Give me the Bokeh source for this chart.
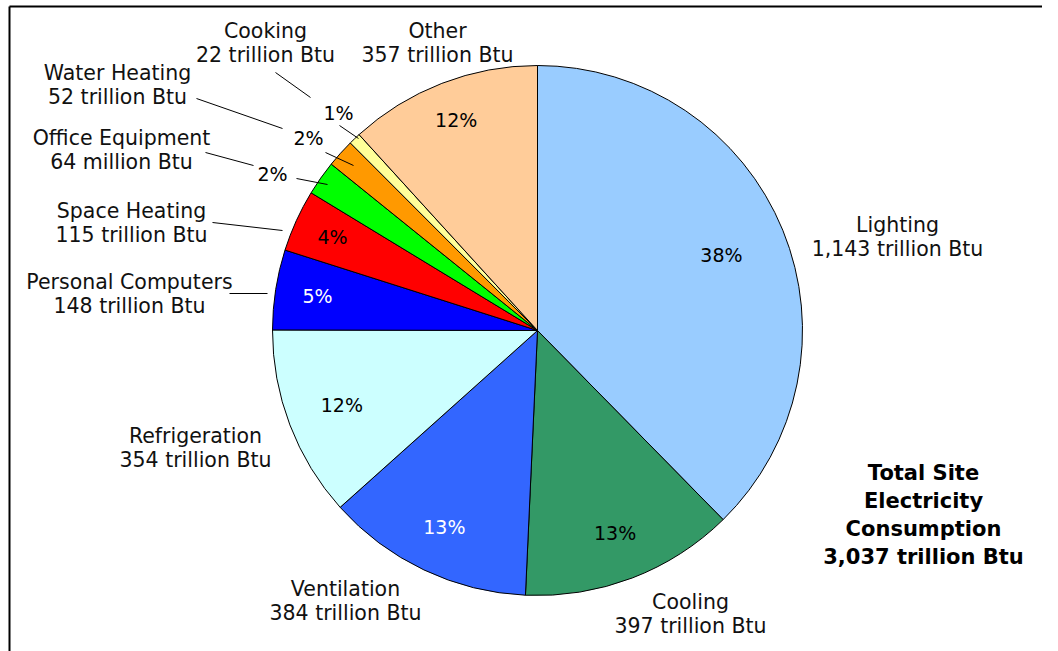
import numpy as np
from bokeh.plotting import figure
from bokeh.models import Range1d
from bokeh.core.properties import value
from bokeh.embed import file_html
from bokeh.resources import INLINE

# ---- data ----
categories = ["Lighting", "Cooling", "Ventilation", "Refrigeration", "Personal Computers",
              "Space Heating", "Office Equipment", "Water Heating", "Cooking", "Other"]
values = [1143, 397, 384, 354, 148, 115, 64, 52, 22, 357]
amount_labels = ["1,143 trillion Btu", "397 trillion Btu", "384 trillion Btu", "354 trillion Btu",
                 "148 trillion Btu", "115 trillion Btu", "64 million Btu", "52 trillion Btu",
                 "22 trillion Btu", "357 trillion Btu"]
percent_labels = ["38%", "13%", "13%", "12%", "5%", "4%", "2%", "2%", "1%", "12%"]
colors = ["#99CCFF", "#339966", "#3366FF", "#CCFFFF", "#0000FF",
          "#FF0000", "#00FF00", "#FF9900", "#FFFF99", "#FFCC99"]
total_lines = ["Total Site", "Electricity", "Consumption", "3,037 trillion Btu"]

FONT = value("DejaVu Sans")
W, HT = 1042, 651


def Y(py):
    return HT - py


p = figure(width=W, height=HT, output_backend="svg", toolbar_location=None,
           x_range=Range1d(0, W), y_range=Range1d(0, HT), min_border=0)
p.axis.visible = False
p.grid.visible = False
p.outline_line_color = None
p.background_fill_color = "white"
p.border_fill_color = "white"

# frame lines (top and left)
p.line([9, W], [Y(6), Y(6)], line_color="black", line_width=2)
p.line([9, 9], [Y(6), Y(HT)], line_color="black", line_width=2)

# ---- pie ----
cx, cy, R = 537, Y(330), 265
vals = np.array(values, dtype=float)
frac = vals / vals.sum()
cum = np.concatenate([[0], np.cumsum(frac)[:-1]])
start = np.pi / 2 - 2 * np.pi * cum
end = start - 2 * np.pi * frac
p.wedge(x=cx, y=cy, radius=R, start_angle=start, end_angle=end, direction="clock",
        fill_color=colors, line_color="black", line_width=1)

# inside percentage labels
mid = (start + end) / 2
label_r = [0.75, 0.82, 0.82, 0.79, 0.84, 0.85, None, None, None, 0.85]
txt_colors = ["black", "black", "white", "black", "white", "black", None, None, None, "black"]
ix, iy, it, ic = [], [], [], []
for i, r in enumerate(label_r):
    if r is None:
        continue
    ix.append(cx + R * r * np.cos(mid[i]))
    iy.append(cy + R * r * np.sin(mid[i]))
    it.append(percent_labels[i])
    ic.append(txt_colors[i])
p.text(x=ix, y=iy, text=it, text_color=ic, text_font=FONT, text_font_size="19px",
       text_align="center", text_baseline="middle")

# outside small percentage labels
out_pos = {"Office Equipment": (272, 173), "Water Heating": (308, 137), "Cooking": (338, 112)}
for name, (px, py) in out_pos.items():
    i = categories.index(name)
    p.text(x=[px], y=[Y(py)], text=[percent_labels[i]], text_color="black", text_font=FONT,
           text_font_size="19px", text_align="center", text_baseline="middle")

# category labels (name + amount)
label_pos = {
    "Lighting": (897, 224), "Cooling": (690, 601), "Ventilation": (345, 588),
    "Refrigeration": (195, 435), "Personal Computers": (129, 281), "Space Heating": (131, 210),
    "Office Equipment": (121, 137), "Water Heating": (117, 72), "Cooking": (265, 30),
    "Other": (437, 30),
}
lx, ly, lt = [], [], []
for name, (px, py) in label_pos.items():
    i = categories.index(name)
    lx += [px, px]
    ly += [Y(py), Y(py + 24.5)]
    lt += [name, amount_labels[i]]
p.text(x=lx, y=ly, text=lt, text_color="#111111", text_font=FONT, text_font_size="20.5px",
       text_align="center", text_baseline="middle")

# leader lines
segs = [
    (275, 72, 310, 97), (339, 125, 358, 138),
    (196, 98, 282, 128), (325, 152, 353, 165),
    (205, 152, 253, 165), (296, 178, 327, 184),
    (212, 222, 282, 230),
    (229, 293, 267, 293),
]
p.segment(x0=[s[0] for s in segs], y0=[Y(s[1]) for s in segs],
          x1=[s[2] for s in segs], y1=[Y(s[3]) for s in segs],
          line_color="black", line_width=1)

# total annotation
p.text(x=[923] * 4, y=[Y(472 + 28 * k) for k in range(4)], text=total_lines,
       text_color="black", text_font=FONT, text_font_size="21px", text_font_style="bold",
       text_align="center", text_baseline="middle")

open("out.html", "w").write(file_html(p, INLINE))
